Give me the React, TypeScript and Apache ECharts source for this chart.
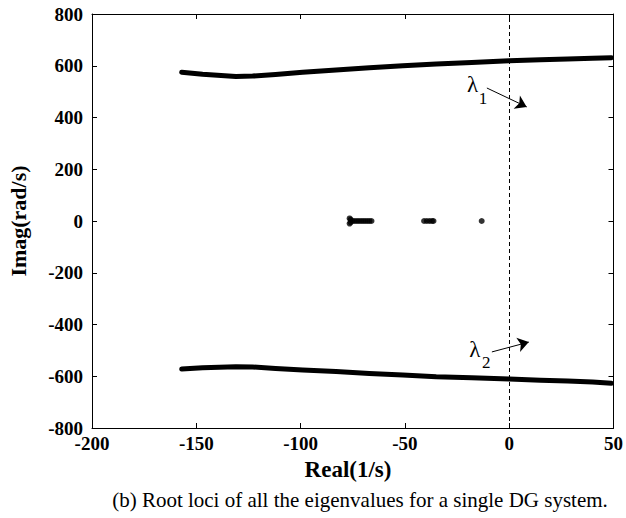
import React, { useEffect, useRef } from "react";
import * as echarts from "echarts";

// Upper root locus (lambda 1): [real, imag]
const upperLocus: [number, number][] = [
  [-157, 575], [-147, 567], [-131, 558], [-123, 560], [-112, 566], [-99, 575],
  [-83, 584], [-67, 592], [-51, 600], [-35, 607], [-18, 613], [0, 619],
  [15, 623], [28, 626], [40, 629], [49, 631],
];
// Lower root locus (lambda 2): [real, imag]
const lowerLocus: [number, number][] = [
  [-157, -572], [-147, -567], [-131, -563], [-123, -564], [-112, -570], [-99, -576],
  [-83, -582], [-67, -589], [-51, -595], [-35, -602], [-18, -606], [0, -611],
  [15, -615], [28, -618], [40, -622], [49, -627],
];
// Real eigenvalues near the axis
const realEigs: [number, number][] = [
  [-76.5, 10], [-76.5, -10], [-76, 5], [-76, -5], [-75, 0], [-74, 0], [-73, 0],
  [-72, 0], [-71, 0], [-70, 0], [-69, 0], [-68, 0], [-67, 0], [-66, 0],
  [-40.8, 0], [-39.5, 0], [-38.2, 0], [-37, 0], [-36.3, 0],
  [-13.2, 0],
];
const xTicks = { min: -200, max: 50, interval: 50 };
const yTicks = { min: -800, max: 800, interval: 200 };
// Annotation arrows: [start, end]
const arrow1: [number, number][] = [[-10.7, 514], [8.4, 441]];
const arrow2: [number, number][] = [[-8.3, -506], [9.4, -468]];

const FONT = "Liberation Serif";

export default function App() {
  const ref = useRef<HTMLDivElement>(null);
  useEffect(() => {
    if (!ref.current) return;
    const chart = echarts.init(ref.current, undefined, { renderer: "svg" });
    const axisCommon = {
      type: "value" as const,
      axisLine: { show: true, onZero: false, lineStyle: { color: "#000", width: 1 } },
      axisTick: { show: true, inside: true, length: 5, lineStyle: { color: "#000" } },
      splitLine: { show: false },
    };
    const tickText = { color: "#000", fontFamily: FONT, fontWeight: "bold" as const, fontSize: 19 };
    const labelStyle = {
      ...tickText,
      formatter: "{t|{value}}",
      rich: { t: tickText },
    };
    const subMark = (coord: [number, number], text: string, size: number) => ({
      coord,
      symbol: "circle",
      symbolSize: 0,
      label: { show: true, position: "inside", formatter: text, color: "#000", fontFamily: FONT, fontSize: size },
    });
    chart.setOption({
      animation: false,
      textStyle: { fontFamily: FONT },
      grid: { left: 92, top: 14, right: 11, bottom: 90 },
      xAxis: [
        { ...axisCommon, ...xTicks, position: "bottom", axisLabel: { ...labelStyle, margin: 6 } },
        { ...axisCommon, ...xTicks, position: "top", axisLabel: { show: false } },
      ],
      yAxis: [
        { ...axisCommon, ...yTicks, position: "left", axisLabel: { ...labelStyle, margin: 9 } },
        { ...axisCommon, ...yTicks, position: "right", axisLabel: { show: false } },
      ],
      series: [
        {
          type: "line",
          data: upperLocus,
          showSymbol: false,
          symbol: "none",
          lineStyle: { color: "#000", width: 5, cap: "round", join: "round" },
          silent: true,
          markLine: {
            silent: true,
            symbol: ["none", "none"],
            label: { show: false },
            lineStyle: { color: "#000", width: 1, type: "solid" },
            data: [
              { xAxis: 0, lineStyle: { type: [4, 3], width: 1, color: "#000" } },
              [
                { coord: arrow1[0], symbol: "none" },
                { coord: arrow1[1], symbol: "arrow", symbolSize: 11 },
              ],
              [
                { coord: arrow2[0], symbol: "none" },
                { coord: arrow2[1], symbol: "arrow", symbolSize: 11 },
              ],
            ],
          },
          markPoint: {
            silent: true,
            data: [
              subMark([-17.5, 526], "λ", 23),
              subMark([-12.6, 474], "1", 17),
              subMark([-16.5, -495], "λ", 23),
              subMark([-11.0, -547], "2", 17),
            ],
          },
        },
        {
          type: "line",
          data: lowerLocus,
          showSymbol: false,
          symbol: "none",
          lineStyle: { color: "#000", width: 5, cap: "round", join: "round" },
          silent: true,
        },
        {
          type: "scatter",
          data: realEigs,
          symbol: "circle",
          symbolSize: 6,
          itemStyle: { color: "#000" },
          silent: true,
        },
      ],
      graphic: [
        {
          type: "text",
          x: 348,
          y: 469,
          style: { text: "Real(1/s)", font: `bold 23px ${FONT}`, fill: "#000", textAlign: "center", textVerticalAlign: "middle" },
        },
        {
          type: "text",
          x: 18,
          y: 221,
          rotation: Math.PI / 2,
          style: { text: "Imag(rad/s)", font: `bold 22px ${FONT}`, fill: "#000", textAlign: "center", textVerticalAlign: "middle" },
        },
        {
          type: "text",
          x: 360,
          y: 500,
          style: { text: "(b) Root loci of all the eigenvalues for a single DG system.", font: `21px ${FONT}`, fill: "#000", textAlign: "center", textVerticalAlign: "middle" },
        },
      ],
    });
    return () => chart.dispose();
  }, []);
  return (
    <div
      ref={ref}
      style={{ position: "absolute", left: 0, top: 0, width: 626, height: 518, background: "#fff" }}
    />
  );
}
